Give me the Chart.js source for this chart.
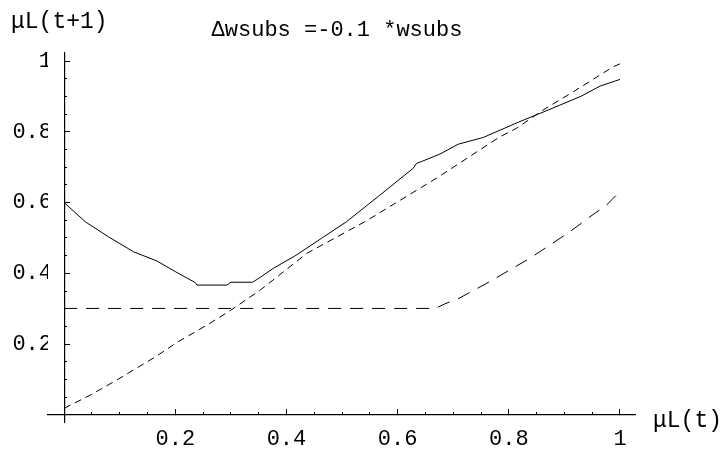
<!DOCTYPE html>
<html>
<head>
<meta charset="utf-8">
<script src="https://cdn.jsdelivr.net/npm/chart.js@4/dist/chart.umd.min.js"></script>
<style>
  html, body { margin: 0; padding: 0; background: #fff; }
  #wrap { width: 727px; height: 450px; }
</style>
</head>
<body>
<div id="wrap"><canvas id="c" width="727" height="450"></canvas></div>
<script>
// ---- data ----
const titleText = "\u0394wsubs =-0.1 *wsubs";
const xAxisLabel = "\u03bcL(t)";
const yAxisLabel = "\u03bcL(t+1)";

const solidX = [0, 0.038, 0.08, 0.125, 0.167, 0.20, 0.236, 0.239, 0.293, 0.300, 0.339, 0.353, 0.376, 0.415, 0.463, 0.508, 0.568, 0.628, 0.634, 0.643, 0.676, 0.709, 0.754, 0.820, 0.856, 0.928, 0.964, 1.0];
const solidY = [0.600, 0.546, 0.503, 0.461, 0.435, 0.405, 0.374, 0.367, 0.367, 0.375, 0.375, 0.389, 0.414, 0.449, 0.499, 0.546, 0.621, 0.697, 0.711, 0.716, 0.737, 0.765, 0.784, 0.829, 0.852, 0.899, 0.929, 0.948];

const diagX = [0, 0.047, 0.095, 0.167, 0.203, 0.257, 0.299, 0.353, 0.437, 0.541, 0.670, 0.784, 0.814, 0.862, 0.916, 0.988, 1.0];
const diagY = [0.019, 0.056, 0.099, 0.167, 0.205, 0.254, 0.295, 0.353, 0.457, 0.546, 0.669, 0.786, 0.810, 0.862, 0.913, 0.984, 0.992];

const dashX = [0, 0.668, 0.685, 0.712, 0.766, 0.802, 0.838, 0.874, 0.910, 0.946, 0.976, 1.0];
const dashY = [0.301, 0.301, 0.314, 0.331, 0.377, 0.410, 0.443, 0.480, 0.518, 0.560, 0.593, 0.632];

const majorTicks = [0.2, 0.4, 0.6, 0.8, 1];

// ---- build ----
function pts(xs, ys) { return xs.map((x, i) => ({ x: x, y: ys[i] })); }
function fmt(v) {
  if (Math.abs(v) < 1e-9) return "";
  if (Math.abs(v - 1) < 1e-9) return "1";
  return v.toFixed(1);
}
function majorList(s) { s.ticks = majorTicks.map(v => ({ value: v })); }
function minorList(s) { const t = []; for (let i = 1; i <= 20; i++) t.push({ value: i * 0.05 }); s.ticks = t; }

const FONT = "'Liberation Mono', 'DejaVu Sans Mono', monospace";
const XMIN = -0.029, XMAX = 1.027, YMIN = -0.0198, YMAX = 1.0226;

const axisLabels = {
  id: 'axisLabels',
  afterDraw(chart) {
    const ctx = chart.ctx;
    ctx.save();
    ctx.fillStyle = '#000';
    ctx.font = "23px " + FONT;
    ctx.textBaseline = 'middle';
    ctx.textAlign = 'left';
    ctx.fillText(yAxisLabel, 11, 22);
    ctx.fillText(xAxisLabel, 653, 421);
    ctx.restore();
  }
};

new Chart(document.getElementById('c'), {
  type: 'scatter',
  data: {
    datasets: [
      { label: 'solid', data: pts(solidX, solidY), showLine: true, borderColor: '#000', borderWidth: 1, pointRadius: 0, xAxisID: 'x', yAxisID: 'y' },
      { label: 'diag', data: pts(diagX, diagY), showLine: true, borderColor: '#000', borderWidth: 1, borderDash: [7, 5], pointRadius: 0, xAxisID: 'x', yAxisID: 'y' },
      { label: 'dash', data: pts(dashX, dashY), showLine: true, borderColor: '#000', borderWidth: 1, borderDash: [13, 9], pointRadius: 0, xAxisID: 'x', yAxisID: 'y' }
    ]
  },
  options: {
    responsive: false,
    animation: false,
    events: [],
    layout: { padding: { left: 0, right: 53, top: 0, bottom: 28 } },
    plugins: {
      legend: { display: false },
      tooltip: { enabled: false },
      title: {
        display: true,
        text: titleText,
        color: '#000',
        font: { family: FONT, size: 22, weight: 'normal' },
        padding: { top: 17, bottom: 9.6 }
      }
    },
    scales: {
      x: {
        type: 'linear', min: XMIN, max: XMAX, position: { y: 0 },
        border: { display: true, color: '#000', width: 1.2 },
        grid: { drawOnChartArea: false, drawTicks: true, tickLength: -6, tickColor: '#000', tickWidth: 1 },
        afterBuildTicks: majorList,
        ticks: { color: '#000', font: { family: FONT, size: 22 }, padding: 17, autoSkip: false, maxRotation: 0, callback: (v) => fmt(v) }
      },
      xm: {
        type: 'linear', min: XMIN, max: XMAX, position: { y: 0 },
        border: { display: false },
        grid: { drawOnChartArea: false, drawTicks: true, tickLength: -3, tickColor: '#000', tickWidth: 1 },
        afterBuildTicks: minorList,
        ticks: { autoSkip: false, maxRotation: 0, callback: () => '' }
      },
      yl: {
        type: 'linear', min: YMIN, max: YMAX, position: 'left',
        border: { display: false },
        grid: { drawOnChartArea: false, drawTicks: false },
        afterBuildTicks: majorList,
        afterFit: (s) => { s.width = 48; },
        ticks: { color: '#000', font: { family: FONT, size: 22 }, padding: -4, autoSkip: false, callback: (v) => fmt(v) }
      },
      yr: {
        type: 'linear', min: YMIN, max: YMAX, position: 'right',
        border: { display: false },
        grid: { drawOnChartArea: false, drawTicks: false },
        afterBuildTicks: (s) => { s.ticks = []; },
        afterFit: (s) => { s.width = 39; },
        ticks: { autoSkip: false, callback: () => '' }
      },
      y: {
        type: 'linear', min: YMIN, max: YMAX, position: { x: 0 },
        border: { display: true, color: '#000', width: 1.2 },
        grid: { drawOnChartArea: false, drawTicks: true, tickLength: -6, tickColor: '#000', tickWidth: 1 },
        afterBuildTicks: majorList,
        ticks: { autoSkip: false, callback: () => '' }
      },
      ym: {
        type: 'linear', min: YMIN, max: YMAX, position: { x: 0 },
        border: { display: false },
        grid: { drawOnChartArea: false, drawTicks: true, tickLength: -3, tickColor: '#000', tickWidth: 1 },
        afterBuildTicks: minorList,
        ticks: { autoSkip: false, callback: () => '' }
      }
    }
  },
  plugins: [axisLabels]
});
</script>
</body>
</html>
